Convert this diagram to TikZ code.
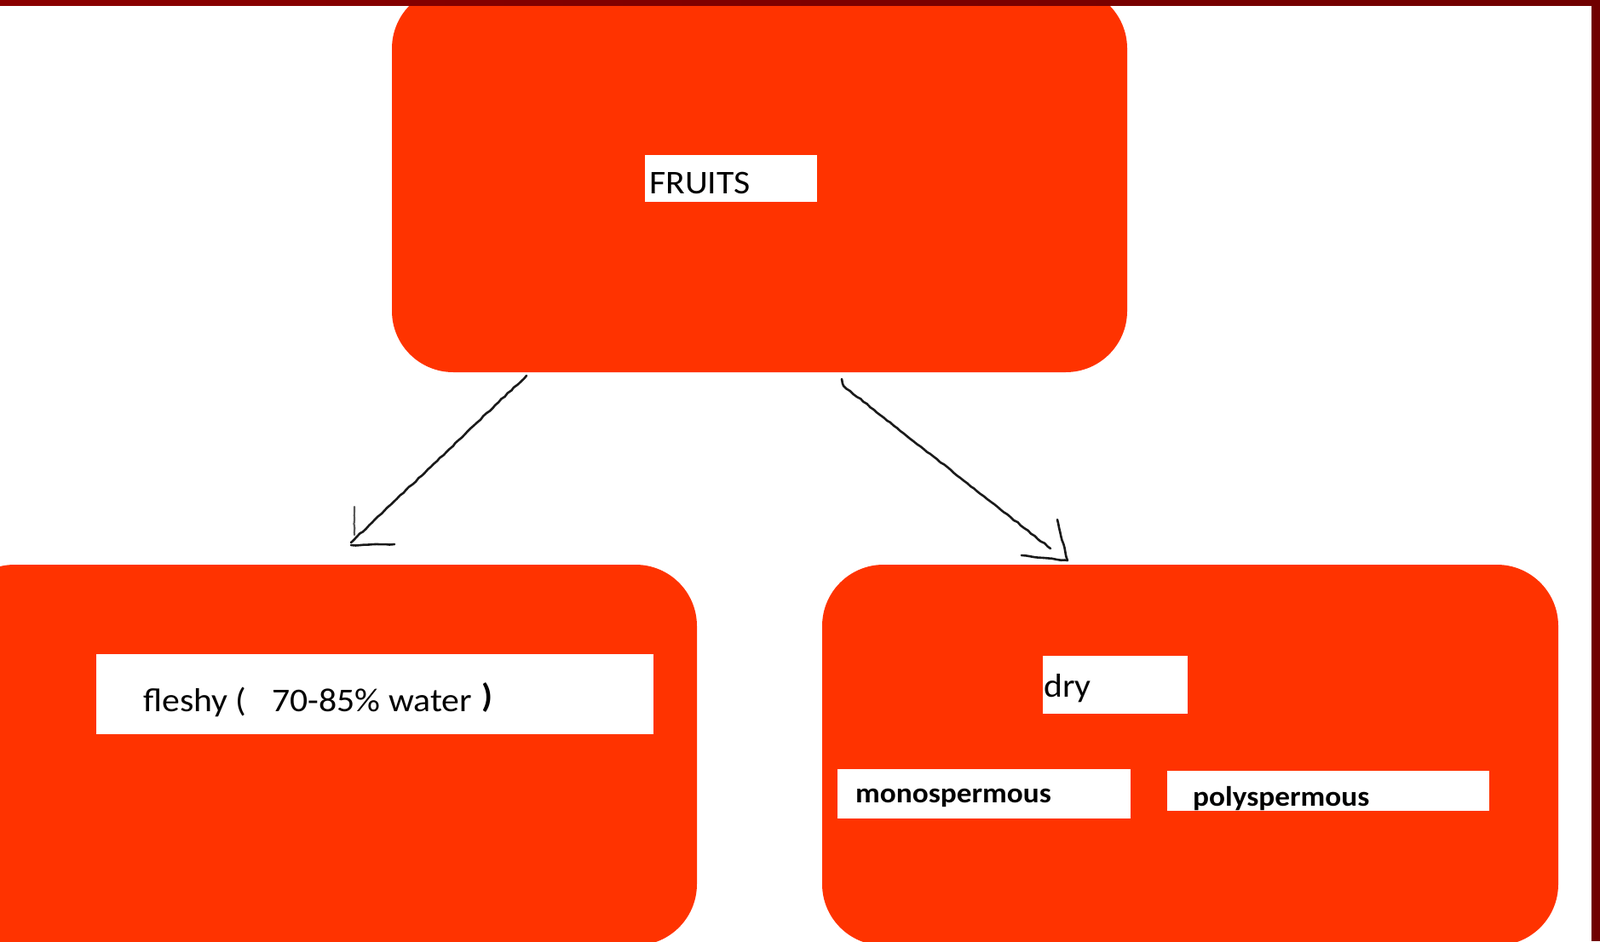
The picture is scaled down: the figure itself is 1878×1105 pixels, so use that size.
\documentclass[tikz,border=0pt]{standalone}
\usepackage{fontspec}
\setmainfont[FakeStretch=1.07]{Carlito}
\usetikzlibrary{decorations.pathmorphing}
\definecolor{boxred}{HTML}{FF3300}
\definecolor{frameA}{HTML}{8B0000}
\definecolor{frameB}{HTML}{700000}
\definecolor{ink}{HTML}{1A1A1A}
\tikzset{
  bigbox/.style={fill=boxred, draw=none, rounded corners=72pt, inner sep=0pt},
  labelbox/.style={fill=white, draw=none, inner sep=0pt},
  txt/.style={anchor=base west, inner sep=0pt, text=black, font=\fontsize{39}{47}\selectfont},
  btxt/.style={anchor=base west, inner sep=0pt, text=black, font=\fontsize{33}{40}\selectfont\bfseries},
  sketch/.style={draw=ink, line width=2.6pt, line cap=round, line join=round,
    decorate, decoration={random steps, segment length=5pt, amplitude=0.6pt}},
  sketchlight/.style={sketch, draw=gray!70!black, line width=2.2pt},
}
\begin{document}
\begin{tikzpicture}[x=1pt,y=-1pt]
\useasboundingbox (0,0) rectangle (1878,1105);
\fill[white] (0,0) rectangle (1878,1105);

\begin{scope}
  \clip (0,0) rectangle (1878,1105);
  % big rounded boxes
  \node[bigbox, minimum width=863pt, minimum height=452pt] (fruits) at (891.5,211) {};
  \node[bigbox, minimum width=873pt, minimum height=447pt] (fleshy) at (381.5,886.5) {};
  \node[bigbox, minimum width=864pt, minimum height=447pt] (dry) at (1397,886.5) {};
\end{scope}

% white label boxes
\node[labelbox, minimum width=202pt, minimum height=55pt] (fruitsbox) at (858,209.5) {};
\node[labelbox, minimum width=654pt, minimum height=94pt] (fleshybox) at (440,815) {};
\node[labelbox, minimum width=170pt, minimum height=68pt] (drybox) at (1309,804) {};
\node[labelbox, minimum width=344pt, minimum height=58pt] (monobox) at (1155,932) {};
\node[labelbox, minimum width=378pt, minimum height=47pt] (polybox) at (1559,928.5) {};

% texts
\node[txt] (fruitstxt) at (762,227) {FRUITS};
\node[txt] (fleshytxt) at (168,835) {fleshy (\hspace{30pt}70-85\% water\hspace{12pt}\raisebox{5pt}{\textbf{)}}};
\node[txt] (drytxt) at (1225,818) {dry};
\node[btxt] (monotxt) at (1004,942) {monospermous};
\node[btxt] (polytxt) at (1400,946) {polyspermous};

% hand-drawn arrows
\coordinate (la) at (618,441);
\coordinate (lb) at (412,637);
\coordinate (lv1) at (416,595);
\coordinate (lv2) at (416,628);
\coordinate (lh1) at (412,640);
\coordinate (lh2) at (463,639);
\draw[sketch] (la) -- (lb);
\draw[sketchlight] (lv1) -- (lv2);
\draw[sketch] (lh1) -- (lh2);

\coordinate (ra0) at (988,445);
\coordinate (ra) at (990,453);
\coordinate (rb) at (1233,644);
\coordinate (rv1) at (1241,610);
\coordinate (rv2) at (1253,658);
\coordinate (rh1) at (1199,652);
\coordinate (rh2) at (1225,655);
\draw[sketch] (ra0) -- (ra) -- (rb);
\draw[sketch] (rv1) -- (rv2);
\draw[sketch] (rh1) -- (rh2) -- (rv2);

% frame
\shade[left color=frameA, right color=frameB] (0,0) rectangle (1878,7);
\fill[frameB] (1868,0) rectangle (1878,1105);
\end{tikzpicture}
\end{document}
